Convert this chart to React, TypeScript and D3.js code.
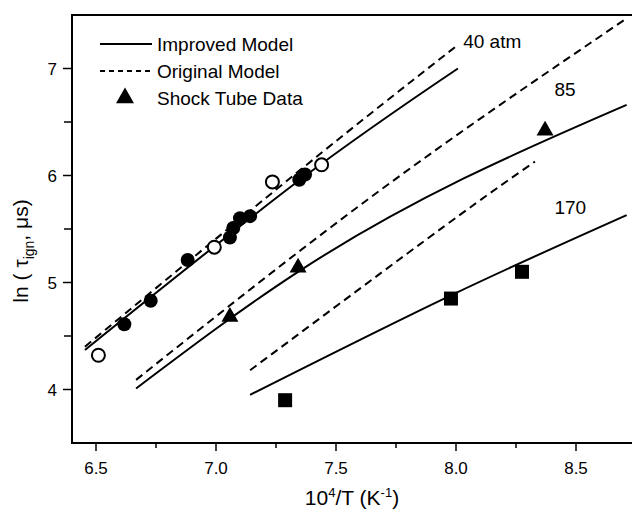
import React from "react";
import * as d3 from "d3";

// ---- Data ----
const xTicks = [6.5, 7.0, 7.5, 8.0, 8.5];
const xMinorTicks = [6.75, 7.25, 7.75, 8.25];
const yTicks = [4, 5, 6, 7];
const yMinorTicks = [4.5, 5.5, 6.5];

// Improved model (solid)
const improved40: [number, number][] = [[6.454, 4.37], [7.35, 5.96], [8.008, 7.0]];
const improved85: [number, number][] = [[6.667, 4.01], [7.342, 5.1], [8.03, 5.97], [8.711, 6.66]];
const improved170: [number, number][] = [[7.142, 3.95], [7.979, 4.88], [8.711, 5.63]];

// Original model (dashed)
const original40: [number, number][] = [[6.454, 4.4], [7.35, 6.05], [7.996, 7.2]];
const original85: [number, number][] = [[6.667, 4.09], [7.683, 5.86], [8.712, 7.47]];
const original170: [number, number][] = [[7.142, 4.18], [7.954, 5.53], [8.329, 6.13]];

// Shock tube data
const filled40: [number, number][] = [[6.618, 4.61], [6.728, 4.83], [6.882, 5.21], [7.058, 5.42], [7.072, 5.51], [7.1, 5.6], [7.142, 5.62], [7.347, 5.96], [7.371, 6.01]];
const open40: [number, number][] = [[6.51, 4.32], [6.993, 5.33], [7.235, 5.94], [7.44, 6.1]];
const triangles85: [number, number][] = [[7.058, 4.68], [7.342, 5.14], [8.371, 6.42]];
const squares170: [number, number][] = [[7.288, 3.9], [7.979, 4.85], [8.275, 5.1]];

const curveLabels = [
  { text: "40 atm", x: 8.03, y: 7.25 },
  { text: "85", x: 8.41, y: 6.8 },
  { text: "170", x: 8.41, y: 5.7 },
];

const legendItems = ["Improved Model", "Original Model", "Shock Tube Data"];

export default function App() {
  const W = 632, H = 514;
  const x = d3.scaleLinear().domain([6.4, 8.75]).range([72, 636]);
  const y = d3.scaleLinear().domain([3.5, 7.5]).range([443, 15]);
  const line = d3
    .line<[number, number]>()
    .x((d) => x(d[0]))
    .y((d) => y(d[1]))
    .curve(d3.curveNatural);
  const tri = d3.symbol().type(d3.symbolTriangle).size(125)()!;
  const triLeg = d3.symbol().type(d3.symbolTriangle).size(140)()!;
  const sq = d3.symbol().type(d3.symbolSquare).size(196)()!;
  const font = "'Liberation Sans', Arial, sans-serif";

  return (
    <svg
      width={W}
      height={H}
      style={{ position: "absolute", left: 0, top: 0, background: "#fff" }}
      fontFamily={font}
    >
      {/* frame */}
      <line x1={72} x2={72} y1={14} y2={444} stroke="#000" strokeWidth={2} />
      <line x1={71} x2={632} y1={443} y2={443} stroke="#000" strokeWidth={2} />
      <line x1={71} x2={632} y1={15} y2={15} stroke="#000" strokeWidth={2} />

      {/* x ticks */}
      {xTicks.map((t) => (
        <g key={"xt" + t}>
          <line x1={x(t)} x2={x(t)} y1={443} y2={451} stroke="#000" strokeWidth={1.5} />
          <text x={x(t)} y={474} textAnchor="middle" fontSize={17}>
            {t.toFixed(1)}
          </text>
        </g>
      ))}
      {xMinorTicks.map((t) => (
        <line key={"xm" + t} x1={x(t)} x2={x(t)} y1={443} y2={448} stroke="#000" strokeWidth={1.5} />
      ))}

      {/* y ticks */}
      {yTicks.map((t) => (
        <g key={"yt" + t}>
          <line x1={63} x2={72} y1={y(t)} y2={y(t)} stroke="#000" strokeWidth={1.5} />
          <text x={57} y={y(t) + 6} textAnchor="end" fontSize={17}>
            {t}
          </text>
        </g>
      ))}
      {yMinorTicks.map((t) => (
        <line key={"ym" + t} x1={64} x2={72} y1={y(t)} y2={y(t)} stroke="#000" strokeWidth={1.5} />
      ))}

      {/* axis titles */}
      <text x={352} y={505} textAnchor="middle" fontSize={21}>
        10<tspan dy={-8} fontSize={13}>4</tspan>
        <tspan dy={8}>/T (K</tspan>
        <tspan dy={-8} fontSize={13}>-1</tspan>
        <tspan dy={8}>)</tspan>
      </text>
      <text transform="translate(28,251) rotate(-90)" textAnchor="middle" fontSize={21}>
        ln ( τ<tspan dy={6} fontSize={14}>ign</tspan>
        <tspan dy={-6}>, μs)</tspan>
      </text>

      {/* model lines */}
      {[improved40, improved85, improved170].map((d, i) => (
        <path key={"imp" + i} d={line(d)!} fill="none" stroke="#000" strokeWidth={2} />
      ))}
      {[original40, original85, original170].map((d, i) => (
        <path key={"orig" + i} d={line(d)!} fill="none" stroke="#000" strokeWidth={2} strokeDasharray="8,5" />
      ))}

      {/* data */}
      {filled40.map((d, i) => (
        <circle key={"f" + i} cx={x(d[0])} cy={y(d[1])} r={7} fill="#000" />
      ))}
      {open40.map((d, i) => (
        <circle key={"o" + i} cx={x(d[0])} cy={y(d[1])} r={6.5} fill="#fff" stroke="#000" strokeWidth={2} />
      ))}
      {triangles85.map((d, i) => (
        <path key={"t" + i} d={tri} transform={`translate(${x(d[0])},${y(d[1])})`} fill="#000" />
      ))}
      {squares170.map((d, i) => (
        <path key={"s" + i} d={sq} transform={`translate(${x(d[0])},${y(d[1])})`} fill="#000" />
      ))}

      {/* curve labels */}
      {curveLabels.map((l) => (
        <text key={l.text} x={x(l.x)} y={y(l.y) + 6} fontSize={19}>
          {l.text}
        </text>
      ))}

      {/* legend */}
      <line x1={100} x2={152} y1={44} y2={44} stroke="#000" strokeWidth={2} />
      <line x1={100} x2={152} y1={71} y2={71} stroke="#000" strokeWidth={2} strokeDasharray="5,4" />
      <path d={triLeg} transform="translate(125,98)" fill="#000" />
      {legendItems.map((t, i) => (
        <text key={t} x={157} y={44 + i * 27 + 7} fontSize={19}>
          {t}
        </text>
      ))}
    </svg>
  );
}
